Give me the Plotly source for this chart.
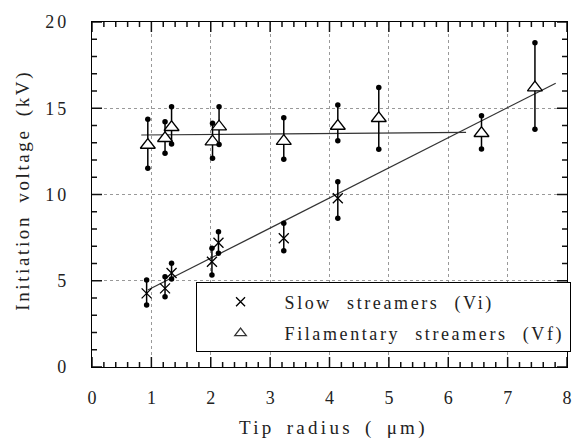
import plotly.graph_objects as go

# Slow streamers (Vi)
slow_x = [0.92, 1.23, 1.34, 2.02, 2.13, 3.23, 4.14]
slow_y = [4.27, 4.56, 5.45, 6.1, 7.2, 7.46, 9.78]
slow_hi = [5.04, 5.23, 6.01, 6.88, 7.84, 8.33, 10.74]
slow_lo = [3.59, 4.07, 5.1, 5.33, 6.59, 6.74, 8.62]

# Filamentary streamers (Vf)
fil_x = [0.94, 1.23, 1.34, 2.03, 2.14, 3.23, 4.14, 4.83, 6.56, 7.46]
fil_y = [12.87, 13.26, 13.9, 13.06, 13.93, 13.1, 13.97, 14.42, 13.55, 16.2]
fil_hi = [14.36, 14.22, 15.09, 14.13, 15.09, 14.45, 15.19, 16.2, 14.57, 18.8]
fil_lo = [11.52, 12.39, 12.93, 12.1, 12.9, 12.04, 13.12, 12.62, 12.64, 13.78]

# Fit lines
fit_vi_x = [0.94, 7.81]
fit_vi_y = [4.46, 16.45]
fit_vf_x = [0.83, 6.3]
fit_vf_y = [13.45, 13.6]

x_ticks = [0, 1, 2, 3, 4, 5, 6, 7, 8]
y_ticks = [0, 5, 10, 15, 20]
x_minor_per_major = 5
y_minor_per_major = 5

legend_names = ["Slow streamers (Vi)", "Filamentary streamers (Vf)"]
x_title = "Tip radius ( μm)"
y_title = "Initiation voltage (kV)"

FONT = "Liberation Serif, Times New Roman, serif"
TXT = "#222"


def spaced(text, ls=2.0, ws=6):
    return (f'<span style="letter-spacing:{ls}px;word-spacing:{ws}px">'
            f'{text}</span>')


fig = go.Figure()

fig.add_trace(go.Scatter(x=fit_vi_x, y=fit_vi_y, mode="lines",
                         line=dict(color="#333", width=1.2), showlegend=False, hoverinfo="skip"))
fig.add_trace(go.Scatter(x=fit_vf_x, y=fit_vf_y, mode="lines",
                         line=dict(color="#333", width=1.2), showlegend=False, hoverinfo="skip"))


def add_series(xs, ys, hi, lo, symbol, size, lsize, name, group):
    fill = "white" if "triangle" in symbol else "black"
    fig.add_trace(go.Scatter(
        x=xs, y=ys, mode="markers", showlegend=False, legendgroup=group,
        marker=dict(symbol=symbol, size=size, color=fill,
                    line=dict(color="black", width=1.3)),
        error_y=dict(type="data", symmetric=False,
                     array=[h - y for h, y in zip(hi, ys)],
                     arrayminus=[y - l for l, y in zip(lo, ys)],
                     color="black", thickness=1.5, width=0),
    ))
    fig.add_trace(go.Scatter(
        x=xs + xs, y=hi + lo, mode="markers", showlegend=False, hoverinfo="skip",
        legendgroup=group,
        marker=dict(symbol="circle", size=5.5, color="black"),
    ))
    fig.add_trace(go.Scatter(
        x=[None], y=[None], mode="markers", name=spaced(name, 2.6, 8), legendgroup=group,
        marker=dict(symbol=symbol, size=lsize, color=fill,
                    line=dict(color="#333", width=1.3)),
    ))


add_series(slow_x, slow_y, slow_hi, slow_lo, "x-thin-open", 10, 9, legend_names[0], "vi")
add_series(fil_x, fil_y, fil_hi, fil_lo, "triangle-up", 13, 10, legend_names[1], "vf")

axis_common = dict(
    showline=True, linecolor="black", linewidth=1.2, mirror=True,
    ticks="",
    showgrid=True, gridcolor="#999", griddash="dot", gridwidth=1,
    zeroline=False, tickfont=dict(family=FONT, size=18, color=TXT),
    tickmode="array",
)

fig.update_xaxes(range=[x_ticks[0], x_ticks[-1]], tickvals=x_ticks,
                 ticktext=[str(v) for v in x_ticks],
                 ticklabelstandoff=14, **axis_common)
fig.update_yaxes(range=[y_ticks[0], y_ticks[-1]], tickvals=y_ticks,
                 ticktext=[spaced(str(v), 3, 0) for v in y_ticks],
                 ticklabelstandoff=18, **axis_common)

# tick marks (inside, on all four sides), drawn as pixel-length shapes
tick_line = dict(color="#111", width=1.5)


def x_tick(v, length):
    fig.add_shape(type="line", xref="x", yref="paper", x0=v, x1=v,
                  ysizemode="pixel", yanchor=0, y0=0, y1=length, line=tick_line)
    fig.add_shape(type="line", xref="x", yref="paper", x0=v, x1=v,
                  ysizemode="pixel", yanchor=1, y0=0, y1=-length, line=tick_line)


def y_tick(v, length):
    fig.add_shape(type="line", xref="paper", yref="y", y0=v, y1=v,
                  xsizemode="pixel", xanchor=0, x0=0, x1=length, line=tick_line)
    fig.add_shape(type="line", xref="paper", yref="y", y0=v, y1=v,
                  xsizemode="pixel", xanchor=1, x0=0, x1=-length, line=tick_line)


for a, b in zip(x_ticks[:-1], x_ticks[1:]):
    x_tick(a, 10)
    step = (b - a) / x_minor_per_major
    for k in range(1, x_minor_per_major):
        x_tick(a + k * step, 5)
x_tick(x_ticks[-1], 10)

for a, b in zip(y_ticks[:-1], y_ticks[1:]):
    y_tick(a, 10)
    step = (b - a) / y_minor_per_major
    for k in range(1, y_minor_per_major):
        y_tick(a + k * step, 5)
y_tick(y_ticks[-1], 10)

fig.add_annotation(text=spaced(x_title, ls=3.3, ws=4), xref="paper", yref="paper",
                   x=0.508, y=-0.177, xanchor="center", yanchor="middle", showarrow=False,
                   font=dict(family=FONT, size=19, color=TXT))
fig.add_annotation(text=spaced(y_title, ls=2.6, ws=5), xref="paper", yref="paper",
                   x=-0.146, y=0.513, xanchor="center", yanchor="middle", showarrow=False,
                   textangle=-90, font=dict(family=FONT, size=19, color=TXT))

fig.update_layout(
    width=579, height=439,
    margin=dict(l=92, r=7, t=22, b=72),
    paper_bgcolor="white", plot_bgcolor="white",
    font=dict(family=FONT, color=TXT),
    legend=dict(x=0.218, y=0.245, xanchor="left", yanchor="top",
                bgcolor="white", bordercolor="black", borderwidth=1,
                font=dict(family=FONT, size=18, color=TXT),
                traceorder="grouped", tracegroupgap=5, itemwidth=78),
)

fig.write_html("out.html")
